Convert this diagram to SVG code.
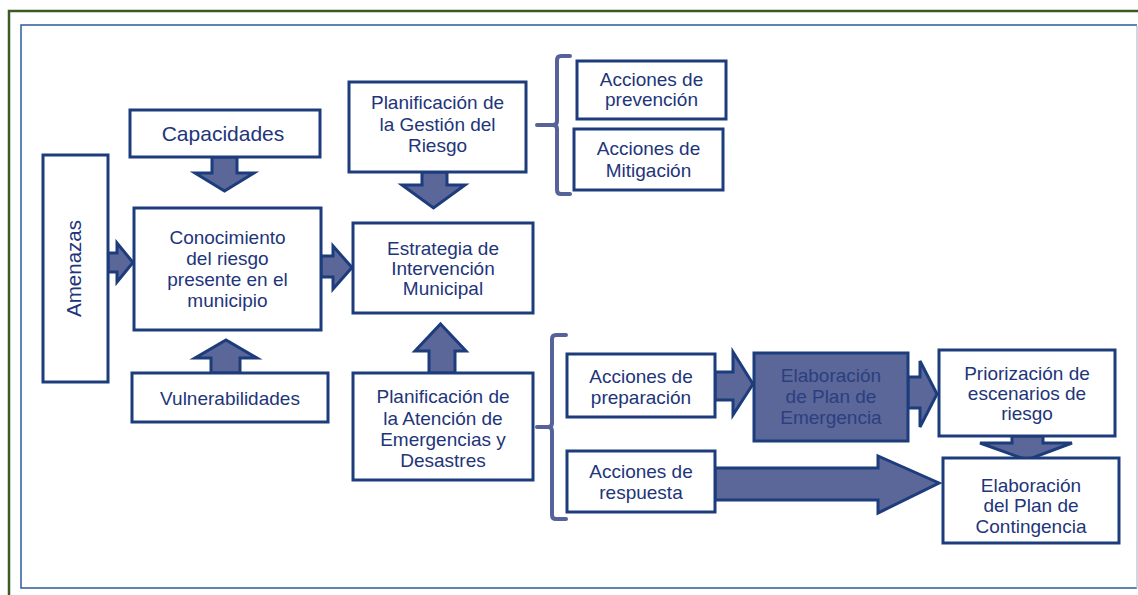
<svg xmlns="http://www.w3.org/2000/svg" width="1138" height="595" viewBox="0 0 1138 595">
<defs>
<style>
.box{fill:#ffffff;stroke:#1d3c7c;stroke-width:3}
.dark{fill:#5b6699;stroke:#1d3c7c;stroke-width:3}
.arr{fill:#5b6699;stroke:#1d3c7c;stroke-width:3;stroke-linejoin:miter}
.br{fill:none;stroke:#56639a;stroke-width:4;stroke-linecap:round;stroke-linejoin:round}
text{font-family:"Liberation Sans",Arial,sans-serif;font-size:19px;fill:#22357a;text-anchor:middle}
.dt{fill:#2b3f80}
</style>
</defs>
<rect x="0" y="0" width="1138" height="595" fill="#ffffff"/>
<rect x="9" y="11" width="1200" height="700" fill="none" stroke="#3b5a24" stroke-width="2.5"/>
<path d="M1137,25 L21,25 L21,588 L1137,588" fill="none" stroke="#2c5aa0" stroke-width="1.5"/>
<line x1="1137" y1="26" x2="1137" y2="588" stroke="#c0c8d8" stroke-width="1.5"/>

<g id="connectors">
<path class="arr" d="M212,157 L237,157 L237,173 L254,173 L224.5,191 L195,173 L212,173 Z"/>
<path class="arr" d="M211,373 L211,358 L195,358 L226,340 L257,358 L240,358 L240,373 Z"/>
<path class="arr" d="M108,253 L117,253 L117,243 L133,262.5 L117,282 L117,272 L108,272 Z"/>
<path class="arr" d="M321,256 L333,256 L333,246 L352,267.5 L333,289 L333,277 L321,277 Z"/>
<path class="arr" d="M422,172 L447,172 L447,185 L465,185 L433.5,208 L402,185 L422,185 Z"/>
<path class="arr" d="M429,373 L429,351 L415,351 L440.5,324 L466,351 L455,351 L455,373 Z"/>
<path class="arr" d="M715,372 L733,372 L733,352 L753,384 L733,415 L733,400 L715,400 Z"/>
<path class="arr" d="M908,377 L920,377 L920,361 L937,394 L920,427 L920,408 L908,408 Z"/>
<path class="arr" d="M715,468 L878,468 L878,456 L939,483 L878,513 L878,500 L715,500 Z"/>
<path class="arr" d="M1012,436 L1043,436 L1043,443 L1072,443 L1027,460 L980,443 L1012,443 Z"/>
<path class="br" d="M570,56 L561,56 Q557,56 557,60 L557,121 Q557,125 553,125 L537,125 M553,125 Q557,125 557,129 L557,190 Q557,194 561,194 L570,194"/>
<path class="br" d="M566,335 L556,335 Q552,335 552,339 L552,423 Q552,427 548,427 L537,427 M548,427 Q552,427 552,431 L552,515 Q552,519 556,519 L566,519"/>
</g>

<g id="capacidades">
<rect class="box" x="130" y="110" width="190" height="47"/>
<text x="223" y="141" style="font-size:21px">Capacidades</text>
</g>
<g id="amenazas">
<rect class="box" x="43" y="155" width="65" height="227"/>
<text transform="translate(81,268.5) rotate(-90)" style="font-size:20.5px">Amenazas</text>
</g>
<g id="conocimiento">
<rect class="box" x="134" y="208" width="187" height="122"/>
<text x="227.5" y="244">Conocimiento</text>
<text x="227.5" y="265">del riesgo</text>
<text x="227.5" y="286">presente en el</text>
<text x="227.5" y="307">municipio</text>
</g>
<g id="vulnerabilidades">
<rect class="box" x="132" y="373" width="196" height="49"/>
<text x="230" y="405">Vulnerabilidades</text>
</g>
<g id="planificacion-gestion">
<rect class="box" x="349" y="82" width="177" height="90"/>
<text x="437.5" y="109">Planificación de</text>
<text x="437.5" y="131">la Gestión del</text>
<text x="437.5" y="152">Riesgo</text>
</g>
<g id="estrategia">
<rect class="box" x="353" y="223" width="180" height="90"/>
<text x="443" y="255">Estrategia de</text>
<text x="443" y="275">Intervención</text>
<text x="443" y="295">Municipal</text>
</g>
<g id="prevencion">
<rect class="box" x="577" y="61" width="149" height="58"/>
<text x="651.5" y="86">Acciones de</text>
<text x="651.5" y="106">prevención</text>
</g>
<g id="mitigacion">
<rect class="box" x="574" y="129" width="149" height="61"/>
<text x="648.5" y="155">Acciones de</text>
<text x="648.5" y="177">Mitigación</text>
</g>
<g id="planificacion-atencion">
<rect class="box" x="353" y="373" width="180" height="107"/>
<text x="443" y="403">Planificación de</text>
<text x="443" y="425">la Atención de</text>
<text x="443" y="446">Emergencias y</text>
<text x="443" y="467">Desastres</text>
</g>
<g id="preparacion">
<rect class="box" x="567" y="354" width="148" height="63"/>
<text x="641" y="383">Acciones de</text>
<text x="641" y="404">preparación</text>
</g>
<g id="respuesta">
<rect class="box" x="567" y="451" width="148" height="61"/>
<text x="641" y="478">Acciones de</text>
<text x="641" y="499">respuesta</text>
</g>
<g id="plan-emergencia">
<rect class="dark" x="754" y="353" width="154" height="88"/>
<text class="dt" x="831" y="382">Elaboración</text>
<text class="dt" x="831" y="403">de Plan de</text>
<text class="dt" x="831" y="424">Emergencia</text>
</g>
<g id="priorizacion">
<rect class="box" x="939" y="350" width="176" height="86"/>
<text x="1027" y="380">Priorización de</text>
<text x="1027" y="400">escenarios de</text>
<text x="1027" y="420">riesgo</text>
</g>
<g id="plan-contingencia">
<rect class="box" x="943" y="458" width="176" height="85"/>
<text x="1031" y="492">Elaboración</text>
<text x="1031" y="512">del Plan de</text>
<text x="1031" y="533">Contingencia</text>
</g>
</svg>
